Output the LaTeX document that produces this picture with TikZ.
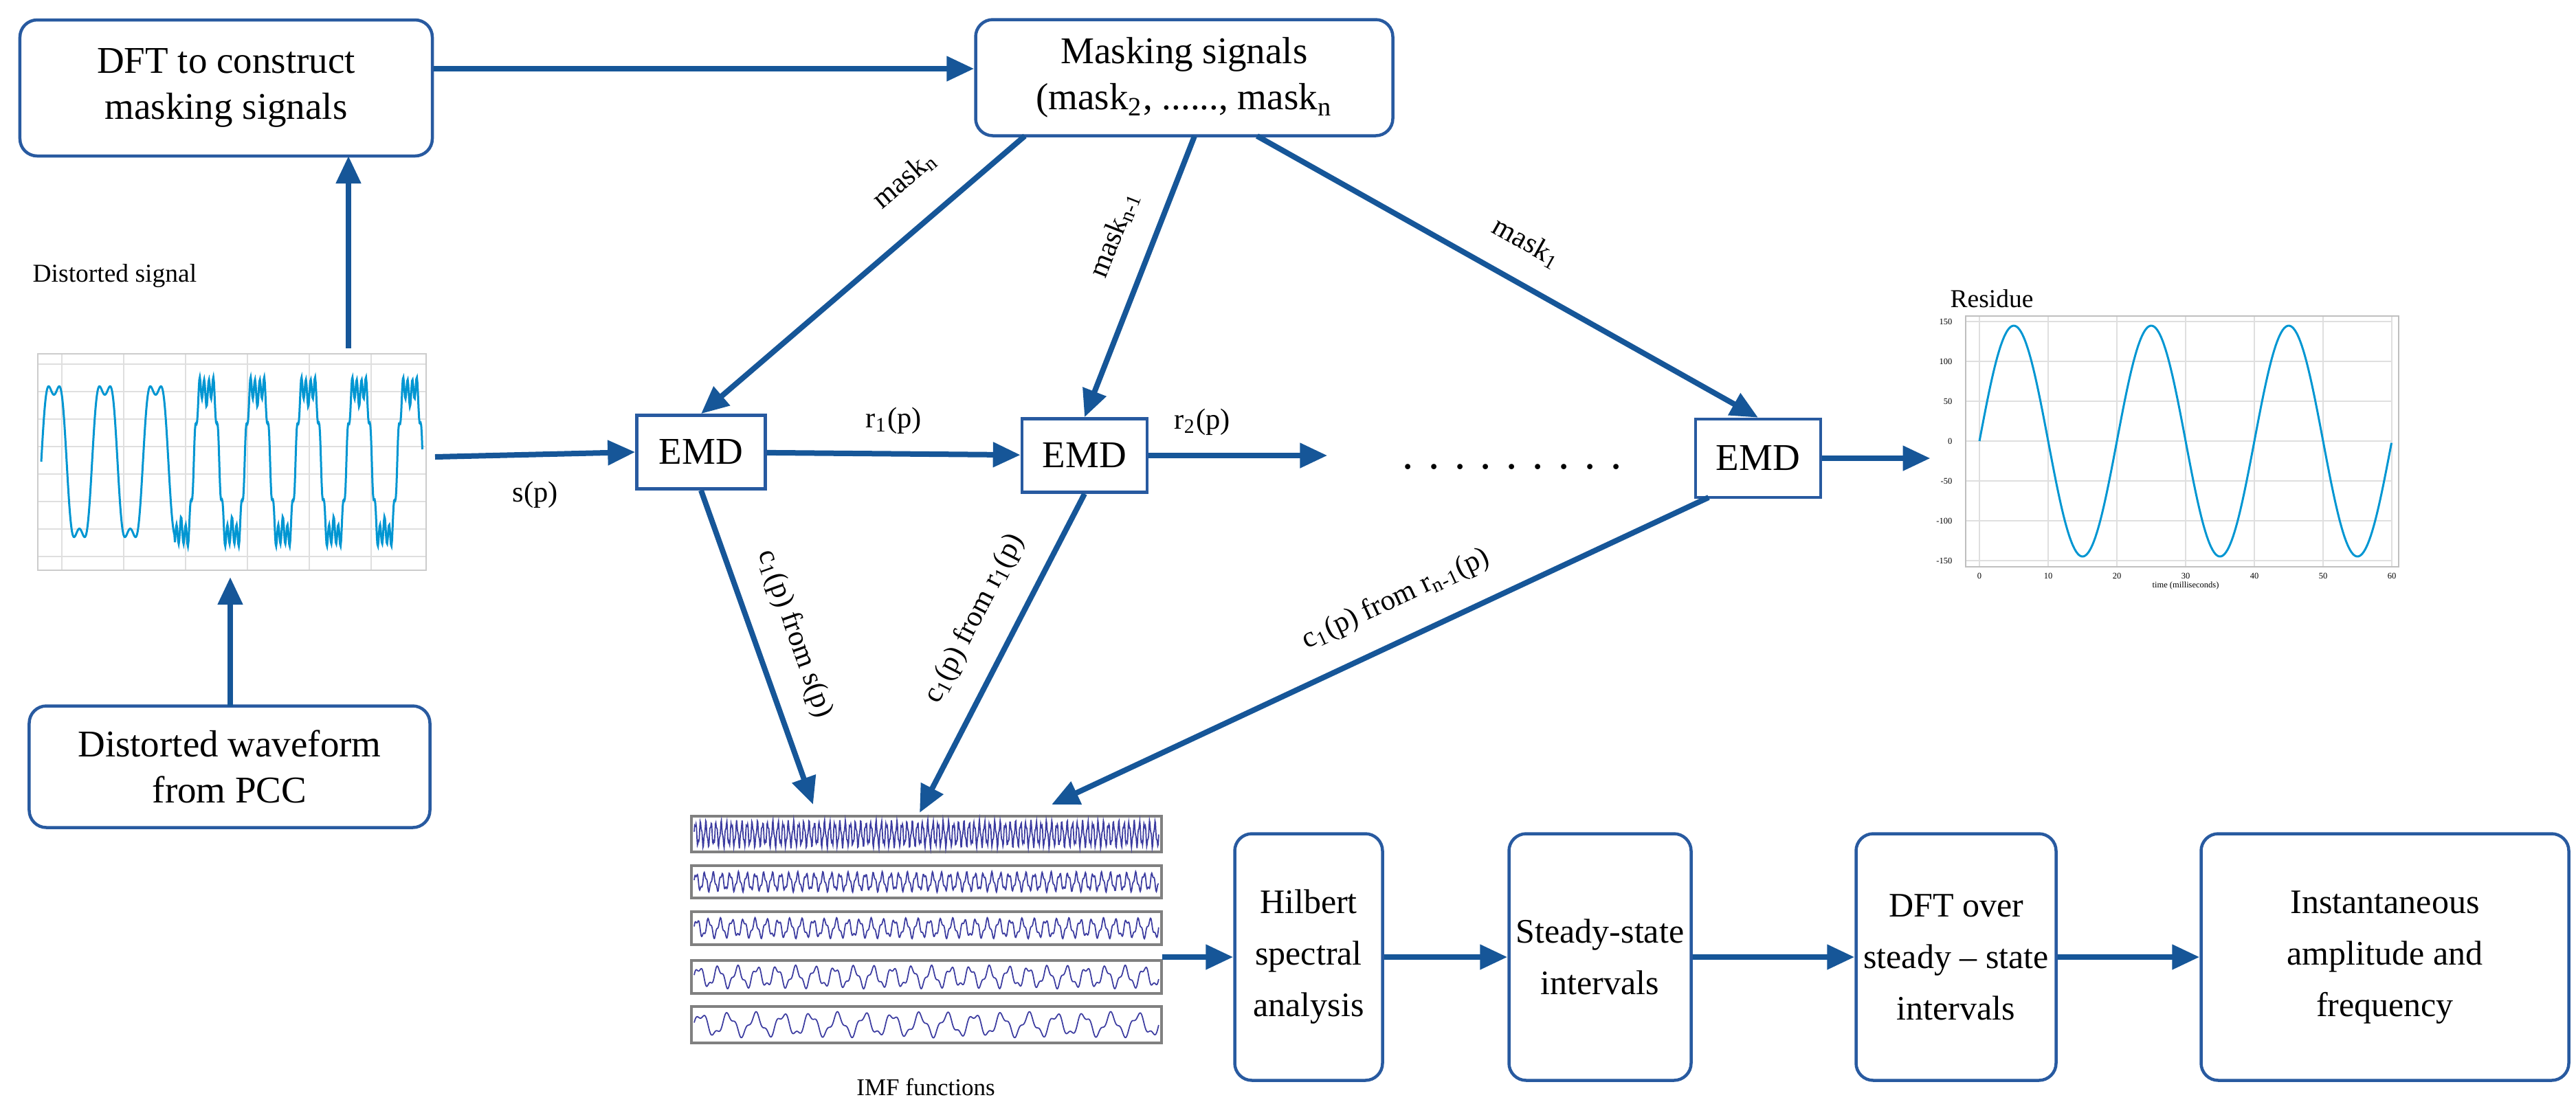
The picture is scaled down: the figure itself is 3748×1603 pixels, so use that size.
\documentclass[tikz,border=0pt]{standalone}
\usepackage{fontspec}
\setmainfont{Liberation Serif}
\usetikzlibrary{arrows.meta}
\definecolor{ablue}{RGB}{22,86,152}
\definecolor{bblue}{RGB}{40,90,160}
\definecolor{sblue}{RGB}{0,150,210}
\definecolor{iblue}{RGB}{60,60,160}
\tikzset{
 box/.style={draw=bblue,line width=0.9pt,rounded corners=5pt,align=center,font=\fontsize{11}{13.5}\selectfont,inner sep=0pt},
 sbox/.style={box,font=\fontsize{10}{15}\selectfont},
 emd/.style={draw=bblue,line width=0.9pt,font=\fontsize{11}{13}\selectfont,inner sep=0pt},
 arr/.style={draw=ablue,line width=1.6pt,-{Triangle[length=8pt,width=7pt]}},
 lbl/.style={font=\fontsize{8.5}{10}\selectfont,inner sep=1pt},
 hold/.style={draw=none,inner sep=0pt}
}
\begin{document}
\begin{tikzpicture}[x=0.2pt,y=-0.2pt]
\useasboundingbox (0,0) rectangle (3748,1603);
% boxes
\node[box,minimum width=120pt,minimum height=39.6pt] (dft) at (329,128) {DFT to construct\\masking signals};
\node[box,minimum width=121.4pt,minimum height=33.8pt] (mask) at (1723,113) {Masking signals\\(mask\textsubscript{2}, ......, mask\textsubscript{n}};
\node[emd,minimum width=37.4pt,minimum height=21.4pt] (e1) at (1020,658) {EMD};
\node[emd,minimum width=36.4pt,minimum height=21.4pt] (e2) at (1578,663) {EMD};
\node[emd,minimum width=36.4pt,minimum height=22.8pt] (e3) at (2558,667) {EMD};
\node[box,minimum width=116.6pt,minimum height=35.4pt] (wave) at (334,1116) {Distorted waveform\\from PCC};
\node[sbox,minimum width=43pt,minimum height=71.8pt] (hil) at (1904,1393) {Hilbert\\spectral\\analysis};
\node[sbox,minimum width=53pt,minimum height=71.8pt] (ss) at (2328,1393) {Steady-state\\intervals};
\node[sbox,minimum width=58.2pt,minimum height=71.8pt] (dov) at (2846,1393) {DFT over\\steady -- state\\intervals};
\node[sbox,minimum width=107pt,minimum height=71.8pt] (ins) at (3470,1393) {Instantaneous\\amplitude and\\frequency};
\node[font=\fontsize{13}{13}\selectfont] (dots) at (2200,680) {. . . . . . . . .};
% distorted signal plot
\node[hold,minimum width=121pt,minimum height=66pt] (sig) at (326,672) {};
\node[font=\fontsize{7.5}{9}\selectfont,anchor=west] (sigl) at (30,402) {Distorted signal};
\begin{scope}
\foreach \yy in {530,570,610,650,690,730,770,810} \draw[gray!25,line width=0.3pt] (55,\yy) -- (620,\yy);
\foreach \xx in {90,180,270,360,450,540} \draw[gray!25,line width=0.3pt] (\xx,515) -- (\xx,830);
\draw[gray!40,line width=0.3pt] (55,515) rectangle (620,830);
\draw[sblue,line width=0.6pt] plot[domain=0:1,samples=700] ({60+555*\x},{672-125*(sin(mod(7.5*\x,1)*360)+0.22*sin(mod(22.5*\x,1)*360)+0.14*(\x>0.35)*sin(mod(82.5*\x,1)*360))});
\end{scope}
% residue plot
\node[hold,minimum width=137pt,minimum height=81pt] (res) at (3152,652) {};
\node[font=\fontsize{7.5}{9}\selectfont,anchor=west] (resl) at (2820,435) {Residue};
\begin{scope}
\foreach \yy in {468,526,584,642,700,758,816} \draw[gray!25,line width=0.3pt] (2860,\yy) -- (3480,\yy);
\foreach \xx in {2880,2980,3080,3180,3280,3380,3480} \draw[gray!25,line width=0.3pt] (\xx,460) -- (\xx,825);
\draw[gray!50,line width=0.3pt] (2860,460) rectangle (3490,825);
\draw[sblue,line width=0.6pt] plot[domain=0:1,samples=300] ({2880+600*\x},{642-168*sin(mod(3*\x,1)*360)});
\foreach \v/\yy in {150/468,100/526,50/584,0/642,-50/700,-100/758,-150/816} \node[font=\fontsize{2.5}{3}\selectfont,anchor=east] at (2858,\yy) {\v};
\foreach \v/\xx in {0/2880,10/2980,20/3080,30/3180,40/3280,50/3380,60/3480} \node[font=\fontsize{2.5}{3}\selectfont] at (\xx,838) {\v};
\node[font=\fontsize{2.5}{3}\selectfont] at (3180,852) {time (milliseconds)};
\end{scope}
% IMF plots
\node[hold,minimum width=137pt,minimum height=70pt] (imf) at (1347,1353) {};
\foreach \ya/\yb/\f/\a in {1188/1240/90/1,1260/1307/55/0.8,1327/1375/40/0.8,1398/1446/24/0.9,1465/1518/17/0.9}{
 \draw[gray,line width=0.8pt] (1006,\ya) rectangle (1690,\yb);
 \draw[iblue,line width=0.35pt] plot[domain=0:1,samples=1000] ({1010+676*\x},{(\ya+\yb)/2-0.4*(\yb-\ya)*\a*(0.75*sin(mod(\f*\x,1)*360)+0.25*sin(mod(2.7*\f*\x,1)*360+40))});
}
\node[font=\fontsize{7}{8}\selectfont] (imfl) at (1347,1582) {IMF functions};
% coordinates
\coordinate (sigtop) at (507,507);
\coordinate (dftbot) at (507,227);
\coordinate (wavetop) at (335,1028);
\coordinate (sigbot) at (335,840);
\coordinate (sigr) at (633,665);
\coordinate (m1) at (1491,198);
\coordinate (m2) at (1738,198);
\coordinate (m3) at (1829,198);
\coordinate (i1) at (1183,1171);
\coordinate (i2) at (1338,1183);
\coordinate (i3) at (1530,1171);
\coordinate (e3b) at (2486,724);
% arrows
\draw[arr] (dft.east |- 0,100) -- (mask.west |- 0,100);
\draw[arr] (sigtop) -- (dftbot);
\draw[arr] (wavetop) -- (sigbot);
\draw[arr] (sigr) -- (e1.west) node[lbl,pos=0.5,below=6pt] {s(p)};
\draw[arr] (e1) -- (e2) node[lbl,midway,above=4pt] {r\textsubscript{1}(p)};
\draw[arr] (e2.east) -- ++(260,0) node[lbl,pos=0.3,above=4pt] {r\textsubscript{2}(p)};
\draw[arr] (e3.east) -- (res.west |- e3.east);
\draw[arr] (m1) -- (e1.north) node[lbl,pos=0.28,sloped,above=8pt] {mask\textsubscript{n}};
\draw[arr] (m2) -- (e2.north) node[lbl,pos=0.4,sloped,above=6pt] {mask\textsubscript{n-1}};
\draw[arr] (m3) -- (e3.north) node[lbl,pos=0.5,sloped,above=6pt] {mask\textsubscript{1}};
\draw[arr] (e1.south) -- (i1) node[lbl,pos=0.5,sloped,above=6pt] {c\textsubscript{1}(p) from s(p)};
\draw[arr] (e2.south) -- (i2) node[lbl,pos=0.45,sloped,above=6pt] {c\textsubscript{1}(p) from r\textsubscript{1}(p)};
\draw[arr] (e3b) -- (i3) node[lbl,pos=0.45,sloped,above=6pt] {c\textsubscript{1}(p) from r\textsubscript{n-1}(p)};
\draw[arr] (imf.east |- hil.west) -- (hil.west);
\draw[arr] (hil) -- (ss);
\draw[arr] (ss) -- (dov);
\draw[arr] (dov) -- (ins);
\end{tikzpicture}
\end{document}
